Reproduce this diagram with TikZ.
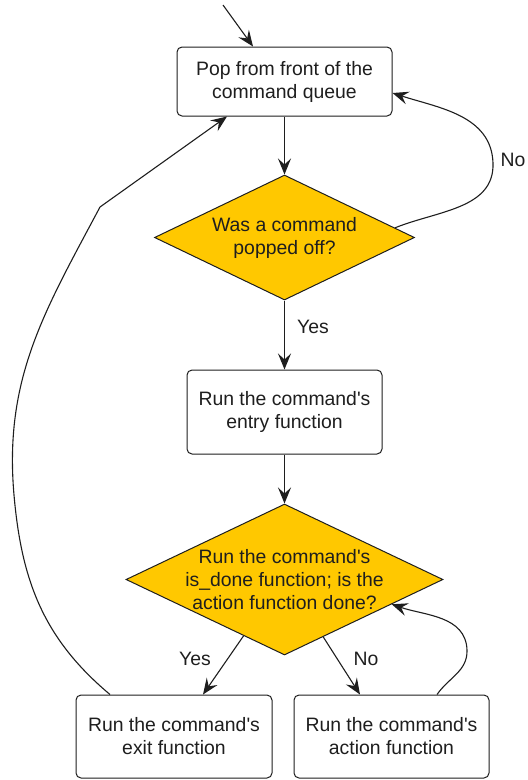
\documentclass[tikz,border=0pt]{standalone}
\usepackage{fontspec}
\setmainfont{Liberation Sans}
\usetikzlibrary{shapes.geometric,arrows.meta}
\definecolor{gold}{RGB}{255,200,0}
\definecolor{ink}{RGB}{30,30,30}
\newcommand{\apos}{\textquotesingle}

\begin{document}
\begin{tikzpicture}[x=1pt,y=1pt,
  every node/.style={font=\fontsize{19.4}{23}\selectfont, text=ink},
  stepbox/.style={draw=ink, line width=1pt, rounded corners=5pt, fill=white, inner sep=0pt, align=center},
  decision/.style={diamond, draw=ink, line width=1pt, fill=gold, inner sep=0pt},
  caption/.style={align=center, inner sep=0pt},
  arr/.style={draw=ink, line width=1.1pt, -{Stealth[length=16pt,width=13pt,inset=6pt]}},
]
\useasboundingbox (0,0) rectangle (528,-780);

% process steps and decisions
\node[stepbox, minimum width=215pt, minimum height=69pt] (pop) at (284.5,-81.5) {Pop from front of the\\command queue};
\node[decision, minimum width=260pt, minimum height=125pt] (popped) at (284.5,-237.5) {};
\node[caption] (poppedtext) at (popped) {Was a command\\popped off?};
\node[stepbox, minimum width=195pt, minimum height=84pt] (entry) at (284.5,-412) {Run the command\apos s\\entry function};
\node[decision, minimum width=317pt, minimum height=151pt] (isdone) at (284.5,-579.5) {};
\node[caption] (isdonetext) at (isdone) {Run the command\apos s\\is\_done function; is the\\action function done?};
\node[stepbox, minimum width=196pt, minimum height=83pt] (exit) at (174,-736.5) {Run the command\apos s\\exit function};
\node[stepbox, minimum width=195pt, minimum height=83pt] (action) at (391.5,-736.5) {Run the command\apos s\\action function};

% entry point
\coordinate (start) at (223,-5);
\draw[arr] (start) -- ([xshift=-31.5pt]pop.north);

% main flow
\draw[arr] (pop.south) -- (popped.north);
\draw[arr] (popped.south) -- (entry.north);
\node (yes1) at (313,-327) {Yes};
\draw[arr] (entry.south) -- (isdone.north);

% nothing popped: try again
\draw[arr] (popped.5) to[out=22,in=-88] (493,-163) to[out=92,in=-18] ([yshift=-11.5pt]pop.east);
\node (no1) at (513,-160) {No};

% branches of the is_done test
\draw[arr] (isdone.-126) -- ([xshift=29pt]exit.north);
\node (yes2) at (195,-659) {Yes};
\draw[arr] (isdone.-56) -- ([xshift=-31.5pt]action.north);
\node (no2) at (366,-659) {No};

% action loops back to the test
\draw[arr] ([xshift=45.5pt]action.north) to[out=55,in=-88] (467,-650) to[out=92,in=-19] (isdone.-13);

% exit loops back to the queue
\draw[arr] ([xshift=-64pt]exit.north) to[out=140,in=-85] (14,-495) to[out=95,in=-118] (100,-207) -- ([xshift=-57.5pt]pop.south);
\end{tikzpicture}
\end{document}
